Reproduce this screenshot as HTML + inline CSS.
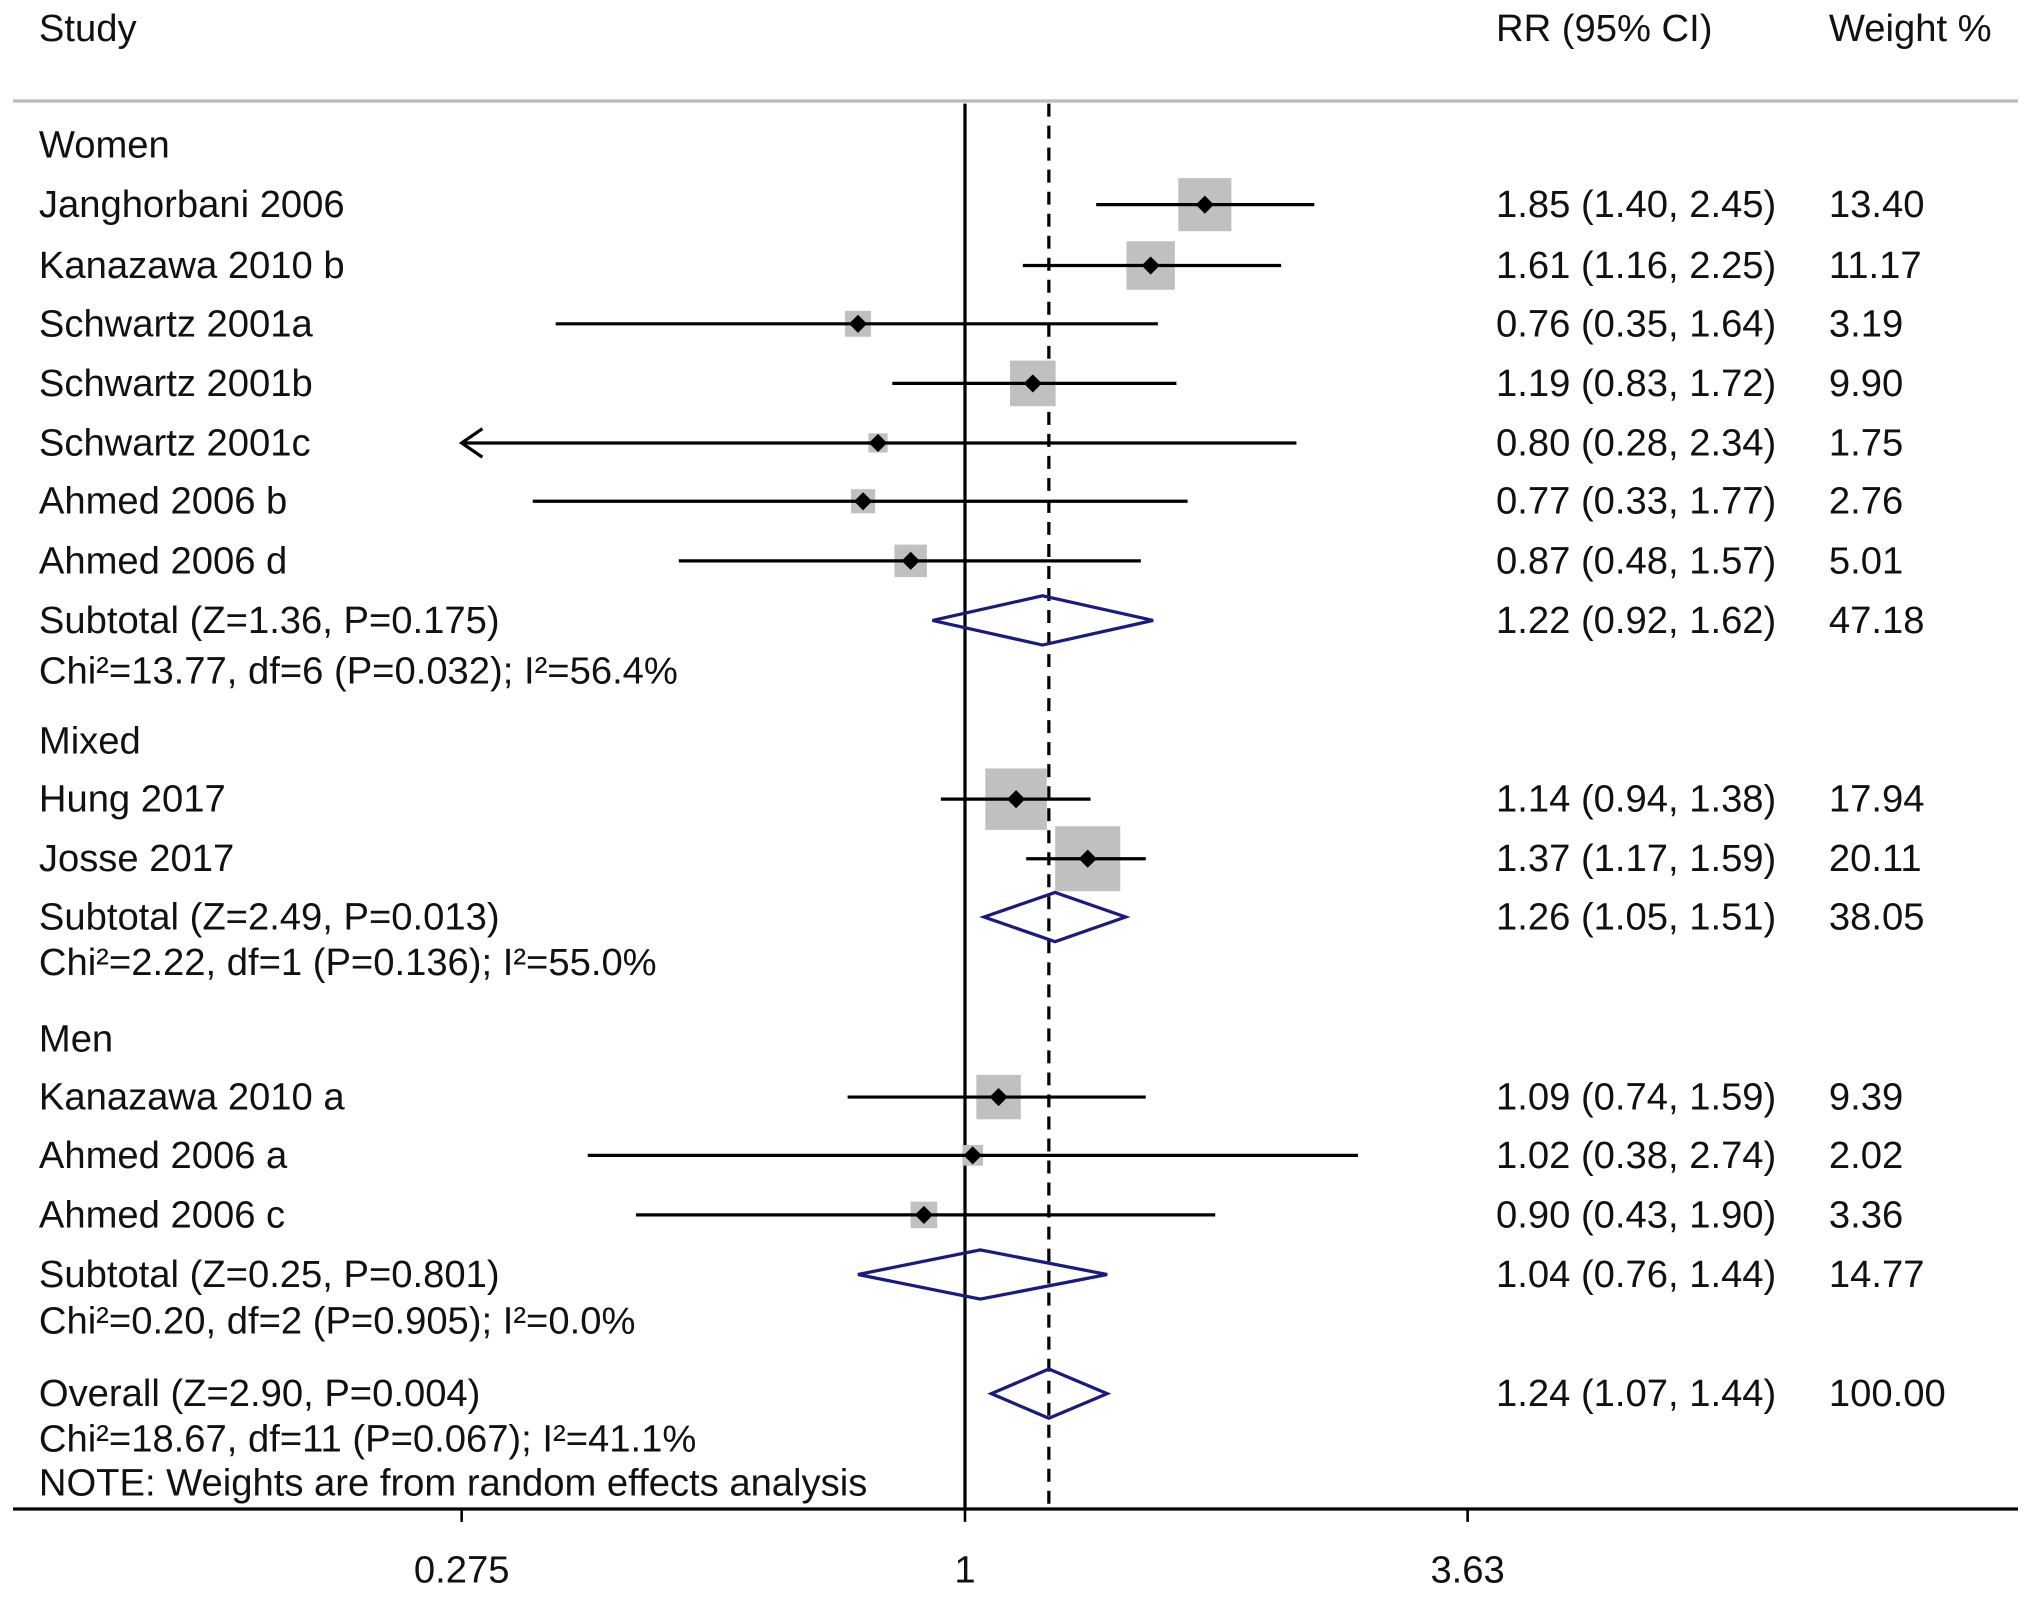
<!DOCTYPE html>
<html><head><meta charset="utf-8"><style>
html,body{margin:0;padding:0;background:#fff}
svg{display:block}
text{font-family:"Liberation Sans",Arial,sans-serif;font-size:29.5px;fill:#111;dominant-baseline:central}
</style></head><body>
<svg id="chart" width="2031" height="1600" viewBox="0 0 1568 1235.3" xmlns="http://www.w3.org/2000/svg">
<text x="30" y="22">Study</text>
<text x="1155" y="22">RR (95% CI)</text>
<text x="1412" y="22">Weight %</text>
<line x1="10" x2="1558" y1="78" y2="78" stroke="#bbb" stroke-width="2.5"/>
<g id="g"></g>
</svg>
<script>
const studies=["Janghorbani 2006","Kanazawa 2010 b","Schwartz 2001a","Schwartz 2001b","Schwartz 2001c","Ahmed 2006 b","Ahmed 2006 d","Hung 2017","Josse 2017","Kanazawa 2010 a","Ahmed 2006 a","Ahmed 2006 c"];
const rr=[1.85,1.61,0.76,1.19,0.80,0.77,0.87,1.14,1.37,1.09,1.02,0.90];
const lo=[1.40,1.16,0.35,0.83,0.28,0.33,0.48,0.94,1.17,0.74,0.38,0.43];
const hi=[2.45,2.25,1.64,1.72,2.34,1.77,1.57,1.38,1.59,1.59,2.74,1.90];
const weights=[13.40,11.17,3.19,9.90,1.75,2.76,5.01,17.94,20.11,9.39,2.02,3.36];
const studyRowY=[158,205,250,296,342,387,433,617,663,847,892,938];
const pooledLabels=["Subtotal (Z=1.36, P=0.175)","Subtotal (Z=2.49, P=0.013)","Subtotal (Z=0.25, P=0.801)","Overall (Z=2.90, P=0.004)"];
const pooledRR=[1.22,1.26,1.04,1.24];
const pooledLo=[0.92,1.05,0.76,1.07];
const pooledHi=[1.62,1.51,1.44,1.44];
const pooledW=[47.18,38.05,14.77,100.00];
const pooledY=[479,708,984,1076];
const hetText=["Chi²=13.77, df=6 (P=0.032); I²=56.4%","Chi²=2.22, df=1 (P=0.136); I²=55.0%","Chi²=0.20, df=2 (P=0.905); I²=0.0%","Chi²=18.67, df=11 (P=0.067); I²=41.1%"];
const hetY=[518,743,1020,1111];
const groups=["Women","Mixed","Men"];
const groupY=[112,572,802];
const ticks=[0.275,1,3.63];
const tickLabels=["0.275","1","3.63"];

const X0=745,K=301,AXMIN=0.275;
const xs=v=>X0+K*Math.log(v);
const g=document.getElementById('g');
const NS="http://www.w3.org/2000/svg";
function mk(t,a,txt){const e=document.createElementNS(NS,t);for(const k in a)e.setAttribute(k,a[k]);if(txt!==undefined)e.textContent=txt;g.appendChild(e);return e;}

let e;
e=mk('line',{x1:X0,x2:X0,y1:80,y2:1165,stroke:'#000','stroke-width':2.5});


const ov=xs(pooledRR[3]);
e=mk('line',{x1:ov,x2:ov,y1:80,y2:1165,stroke:'#000','stroke-width':2.5,'stroke-dasharray':'10,7'});


e=mk('line',{x1:10,x2:1558,y1:1165,y2:1165,stroke:'#000','stroke-width':2.5});


ticks.forEach((t,i)=>{
  e=mk('line',{x1:xs(t),x2:xs(t),y1:1165,y2:1175,stroke:'#000','stroke-width':2});
  
  
  e=mk('text',{x:xs(t),y:1212,'text-anchor':'middle','font-size':27},tickLabels[i]);
  
  
});
groups.forEach((n,i)=>{
  e=mk('text',{x:30,y:groupY[i]},n);
  
  
});
studies.forEach((s,i)=>{
  const y=studyRowY[i];
  e=mk('text',{x:30,y:y},s);
  
  
  const arrow=lo[i]<=0.28;
  const x1=arrow?xs(AXMIN):xs(lo[i]);
  const sz=11.2*Math.sqrt(weights[i]);
  e=mk('rect',{x:xs(rr[i])-sz/2,y:y-sz/2,width:sz,height:sz,fill:'#c0c0c0'});
  
  
  e=mk('line',{x1:x1,x2:xs(hi[i]),y1:y,y2:y,stroke:'#000','stroke-width':2.5});
  
  
  if(arrow){
    e=mk('path',{d:`M${x1+16},${y-11} L${x1},${y} L${x1+16},${y+11}`,fill:'none',stroke:'#000','stroke-width':2.5});
    
    
  }
  const cx=xs(rr[i]);
  e=mk('path',{d:`M${cx-7},${y} L${cx},${y-7} L${cx+7},${y} L${cx},${y+7}Z`,fill:'#000'});
  
  
  e=mk('text',{x:1155,y:y},`${rr[i].toFixed(2)} (${lo[i].toFixed(2)}, ${hi[i].toFixed(2)})`);
  
  
  e=mk('text',{x:1412,y:y},weights[i].toFixed(2));
  
  
});
pooledLabels.forEach((s,i)=>{
  const y=pooledY[i];
  e=mk('text',{x:30,y:y},s);
  
  
  const a=xs(pooledLo[i]),b=xs(pooledRR[i]),c=xs(pooledHi[i]),h=19;
  e=mk('path',{d:`M${a},${y} L${b},${y-h} L${c},${y} L${b},${y+h}Z`,fill:'none',stroke:'#1a1a80','stroke-width':2.5});
  
  
  e=mk('text',{x:1155,y:y},`${pooledRR[i].toFixed(2)} (${pooledLo[i].toFixed(2)}, ${pooledHi[i].toFixed(2)})`);
  
  
  e=mk('text',{x:1412,y:y},pooledW[i].toFixed(2));
  
  
});
hetText.forEach((s,i)=>{
  e=mk('text',{x:30,y:hetY[i],'font-size':27.8},s);
  
  
});
e=mk('text',{x:30,y:1145,'font-size':27.8},"NOTE: Weights are from random effects analysis");


</script>
</body></html>
